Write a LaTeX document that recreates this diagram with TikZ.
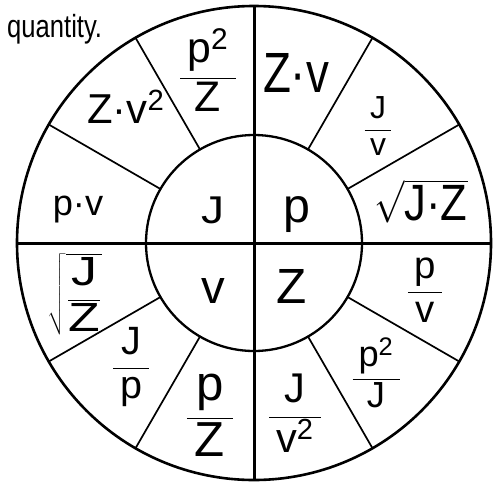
\documentclass[tikz,border=0pt]{standalone}
\usepackage{fontspec}
\usepackage{graphicx}
\setmainfont{Liberation Sans}
\newcommand{\fitbox}[2]{\resizebox*{!}{#1pt}{#2}}
\newcommand{\fitwh}[3]{\resizebox*{#1pt}{#2pt}{#3}}
\newcommand{\fr}[2]{$\displaystyle\frac{\mbox{\,#1\,}}{\mbox{\,#2\,}}$}
\begin{document}
\begin{tikzpicture}[x=1pt,y=-1pt,
  ring/.style={line width=2.6pt},
  inring/.style={line width=2.3pt},
  axisline/.style={line width=3pt},
  spoke/.style={line width=1.7pt},
  lab/.style={inner sep=0pt,outer sep=0pt,font=\fontsize{30}{36}\selectfont}]
\useasboundingbox (0,0) rectangle (502,482);
\fill[white] (0,0) rectangle (502,482);
\begin{scope}[shift={(254,243)}]
  \draw[ring] (0,0) circle[radius=237pt];
  \draw[inring] (0,0) circle[radius=108pt];
  \draw[axisline] (-237pt,0) -- (237pt,0);
  \draw[axisline] (0,-237pt) -- (0,237pt);
  \foreach \a in {30,60,120,150,210,240,300,330}
    \draw[spoke] (\a:108pt) -- (\a:237pt);
\end{scope}
% title text
\node[anchor=base west,inner sep=0pt] (q) at (7,37)
  {\scalebox{0.8}[1]{\fontsize{32}{38}\selectfont quantity.}};
% centre
\node[lab] (cJ) at (213,210) {\fitwh{23}{27}{J}};
\node[lab] (cp) at (297,215) {\fitbox{36}{p}};
\node[lab] (cv) at (213,291) {\fitbox{25}{v}};
\node[lab] (cZ) at (292,286) {\fitbox{34}{Z}};
% outer ring
\node[lab] (o1) at (296,73) {\fitwh{66}{39}{Z·v}};
\node[lab] (o2) at (378,126) {\fitbox{58}{\fr{J}{v}}};
\node[lab] (o3) at (421,201) {\fitwh{93}{44}{$\sqrt{\mbox{J·Z}}$}};
\node[lab] (o4) at (208,70) {\fitbox{82}{\fr{p\textsuperscript{2}}{Z}}};
\node[lab] (o5) at (126,107) {\fitbox{33}{Z·v\textsuperscript{2}}};
\node[lab] (o6) at (78,210) {\fitbox{27}{p·v}};
\node[lab] (o7) at (75,294) {\fitwh{54}{82}{$\sqrt{\displaystyle\frac{\mbox{J}}{\mbox{Z}}}$}};
\node[lab] (o8) at (131,367) {\fitbox{80}{\fr{J}{p}}};
\node[lab] (o9) at (210,415) {\fitbox{82}{\fr{p}{Z}}};
\node[lab] (o10) at (295,413) {\fitbox{78}{\fr{J}{v\textsuperscript{2}}}};
\node[lab] (o11) at (376,373) {\fitbox{70}{\fr{p\textsuperscript{2}}{J}}};
\node[lab] (o12) at (425,290) {\fitbox{64}{\fr{p}{v}}};
\end{tikzpicture}
\end{document}
